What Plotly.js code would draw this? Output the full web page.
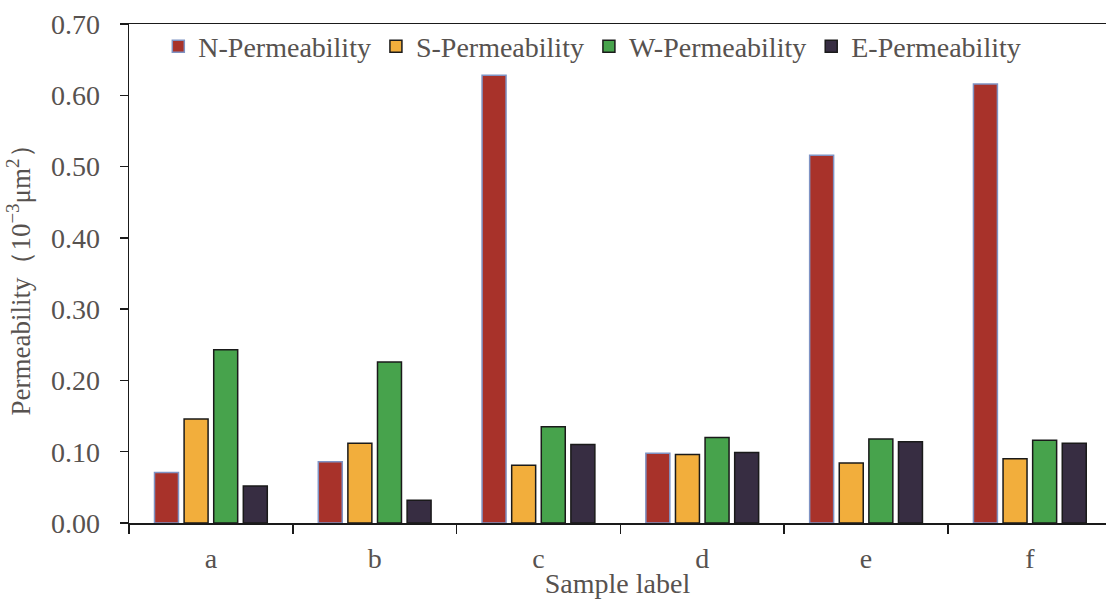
<!DOCTYPE html>
<html>
<head>
<meta charset="utf-8">
<script src="https://cdn.plot.ly/plotly-3.0.1.min.js"></script>
<style>html,body{margin:0;padding:0;background:#fff;overflow:hidden;}#chart{width:1106px;height:603px;}</style>
</head>
<body>
<div id="chart"></div>
<script>
const categories = ["a", "b", "c", "d", "e", "f"];
const seriesNames = ["N-Permeability", "S-Permeability", "W-Permeability", "E-Permeability"];
const nPerm = [0.071, 0.086, 0.628, 0.098, 0.516, 0.616];
const sPerm = [0.146, 0.112, 0.081, 0.096, 0.084, 0.090];
const wPerm = [0.243, 0.226, 0.135, 0.120, 0.118, 0.116];
const ePerm = [0.052, 0.032, 0.110, 0.099, 0.114, 0.112];
const yTickVals = [0, 0.1, 0.2, 0.3, 0.4, 0.5, 0.6, 0.7];
const yTickText = ["0.00", "0.10", "0.20", "0.30", "0.40", "0.50", "0.60", "0.70"];

const colors = ["#A8322A", "#F2AE3C", "#47A34C", "#372D42"];
const lineColors = ["#7F93C4", "#1a1a1a", "#1a1a1a", "#1a1a1a"];
const values = [nPerm, sPerm, wPerm, ePerm];
const font = "Liberation Serif, Times New Roman, serif";
const txt = "#57524f";

const traces = values.map((v, i) => ({
  type: "bar",
  name: seriesNames[i],
  x: categories,
  y: v,
  marker: {color: colors[i], line: {color: lineColors[i], width: 1.5}},
  hoverinfo: "x+y"
}));

const layout = {
  width: 1106, height: 603,
  margin: {l: 129, r: 0, t: 24, b: 80, pad: 0},
  paper_bgcolor: "#fff", plot_bgcolor: "#fff",
  barmode: "group",
  bargap: 0.277,
  bargroupgap: 0.19,
  font: {family: font, color: txt, size: 28},
  xaxis: {
    range: [-0.5, 5.465],
    showline: true, linecolor: "#1a1a1a", linewidth: 1.5, mirror: true,
    ticks: "outside", tickson: "boundaries", ticklen: 9, tickcolor: "#1a1a1a", tickwidth: 1.5,
    tickfont: {family: font, size: 28, color: txt},
    ticklabelstandoff: 10,
    showgrid: false, zeroline: false,
    title: {text: "Sample label", font: {family: font, size: 28, color: txt}, standoff: 0}
  },
  yaxis: {
    range: [0, 0.7],
    tickvals: yTickVals, ticktext: yTickText,
    showline: true, linecolor: "#1a1a1a", linewidth: 1.5,
    ticks: "outside", ticklen: 8, tickcolor: "#1a1a1a", tickwidth: 1.5,
    tickfont: {family: font, size: 28, color: txt},
    ticklabelstandoff: 14,
    showgrid: false, zeroline: false,
    title: {text: "Permeability（10<sup>−3</sup>μm<sup>2</sup>）", font: {family: font, size: 27, color: txt}, standoff: 12}
  },
  legend: {
    orientation: "h", x: 0.03, y: 1.005, xanchor: "left", yanchor: "top",
    bgcolor: "rgba(0,0,0,0)",
    font: {family: font, size: 28, color: txt},
    itemwidth: 30, tracegroupgap: 0
  },
  showlegend: true
};

Plotly.newPlot("chart", traces, layout, {staticPlot: true, displayModeBar: false});
</script>
</body>
</html>
